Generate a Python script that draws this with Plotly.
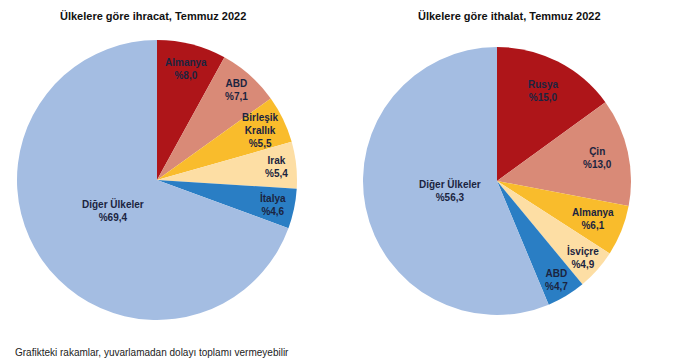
import math
import plotly.graph_objects as go

W, H = 700, 361
OFF = 8  # page body margin offset of the figure in the browser

# ---- data ----
exp_labels = ["Almanya", "ABD", "Birleşik<br>Krallık", "Irak", "İtalya", "Diğer Ülkeler"]
exp_values = [8.0, 7.1, 5.5, 5.4, 4.6, 69.4]
exp_text = ["%8,0", "%7,1", "%5,5", "%5,4", "%4,6", "%69,4"]

imp_labels = ["Rusya", "Çin", "Almanya", "İsviçre", "ABD", "Diğer Ülkeler"]
imp_values = [15.0, 13.0, 6.1, 4.9, 4.7, 56.3]
imp_text = ["%15,0", "%13,0", "%6,1", "%4,9", "%4,7", "%56,3"]

titles = ["Ülkelere göre ihracat, Temmuz 2022", "Ülkelere göre ithalat, Temmuz 2022"]
note = "Grafikteki rakamlar, yuvarlamadan dolayı toplamı vermeyebilir"

# ---- style ----
colors = ["#AE1519", "#D98A77", "#F9BC2C", "#FDDEA4", "#2A7EC4", "#A4BDE2"]
TXT = "#1B2440"
FONT = "Liberation Sans, Arial, sans-serif"

# pie geometry (pixels, in screen coordinates)
pies = [
    dict(cx=157, cy=180, R=140, labels=exp_labels, values=exp_values, text=exp_text,
         rfrac=[0.82, 0.86, 0.82, 0.86, 0.85, 0.38], tx=153),
    dict(cx=497, cy=181, R=134, labels=imp_labels, values=imp_values, text=imp_text,
         rfrac=[0.75, 0.77, 0.77, 0.86, 0.86, 0.36], tx=509),
]


def px2x(x):
    return (x - OFF) / W


def px2y(y):
    return 1 - (y - OFF) / H


fig = go.Figure()
annotations = []
for p in pies:
    dom_x = [px2x(p["cx"] - p["R"]), px2x(p["cx"] + p["R"])]
    dom_y = [px2y(p["cy"] + p["R"]), px2y(p["cy"] - p["R"])]
    fig.add_trace(go.Pie(
        labels=p["labels"], values=p["values"], sort=False, direction="clockwise",
        rotation=0, marker=dict(colors=colors, line=dict(width=0)),
        textinfo="none", hoverinfo="skip", showlegend=False,
        domain=dict(x=dom_x, y=dom_y),
    ))
    total = sum(p["values"])
    cum = 0.0
    for lab, v, t, rf in zip(p["labels"], p["values"], p["text"], p["rfrac"]):
        mid = (cum + v / 2) / total * 2 * math.pi
        cum += v
        x = p["cx"] + rf * p["R"] * math.sin(mid)
        y = p["cy"] - rf * p["R"] * math.cos(mid)
        annotations.append(dict(
            x=px2x(x), y=px2y(y), xref="paper", yref="paper",
            text=f"<b>{lab}<br>{t}</b>", showarrow=False,
            font=dict(family=FONT, size=10, color=TXT), align="center",
            xanchor="center", yanchor="middle",
        ))

for p, ttl in zip(pies, titles):
    annotations.append(dict(
        x=px2x(p["tx"]), y=px2y(16), xref="paper", yref="paper",
        text=f"<b>{ttl}</b>", showarrow=False,
        font=dict(family=FONT, size=11, color="#111111"),
        xanchor="center", yanchor="middle",
    ))

annotations.append(dict(
    x=px2x(13), y=px2y(352), xref="paper", yref="paper", text=note, showarrow=False,
    font=dict(family=FONT, size=10, color="#222222"), xanchor="left", yanchor="middle",
))

fig.update_layout(
    width=W, height=H, margin=dict(l=0, r=0, t=0, b=0),
    paper_bgcolor="white", plot_bgcolor="white",
    annotations=annotations,
)

fig.write_html("out.html")
